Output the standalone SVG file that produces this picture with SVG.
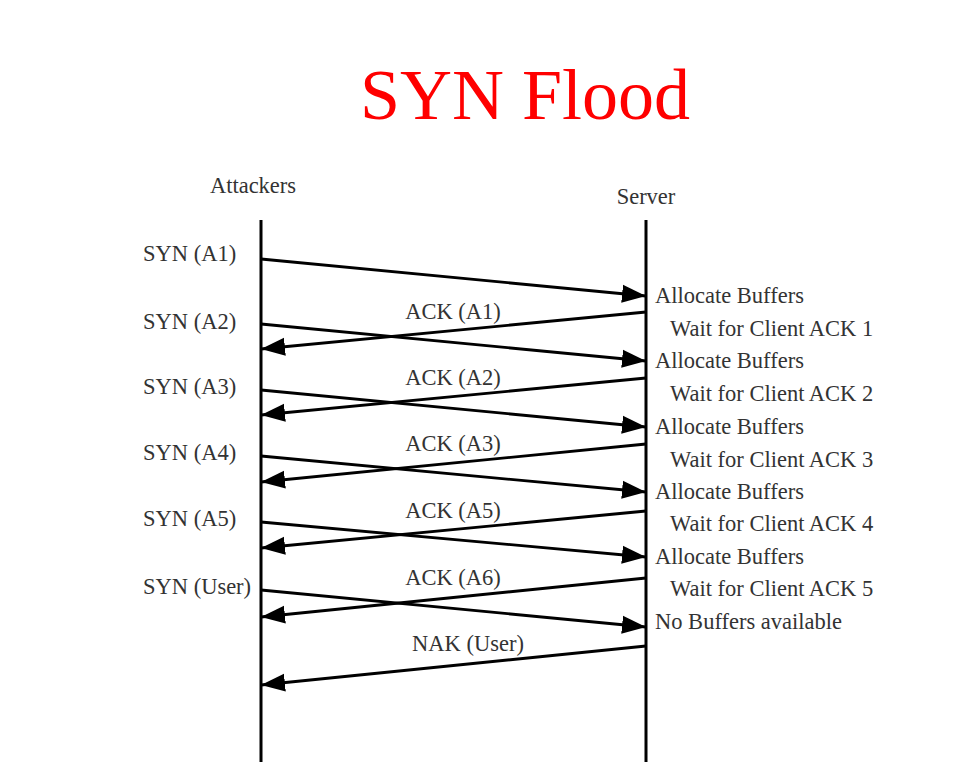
<svg xmlns="http://www.w3.org/2000/svg" width="976" height="782" viewBox="0 0 976 782">
<style>
.t{font-family:"Liberation Serif","Times New Roman",serif;font-size:22.5px;fill:#333}
.title{font-family:"Liberation Serif","Times New Roman",serif;font-size:72px;fill:#ff0000}
.life{stroke:#000;stroke-width:3;fill:none}
.msg{stroke:#000;stroke-width:2.8;fill:none;marker-end:url(#ah)}
</style>
<defs>
<marker id="ah" markerUnits="userSpaceOnUse" markerWidth="26" markerHeight="20" refX="24" refY="10" orient="auto">
<path d="M0,1 L24,10 L0,19 Z" fill="#000"/>
</marker>
</defs>
<rect width="976" height="782" fill="#fff"/>
<text class="title" x="525" y="119" text-anchor="middle">SYN Flood</text>
<g id="attackers">
<text class="t" x="253" y="193" text-anchor="middle">Attackers</text>
<line class="life" x1="261" y1="220" x2="261" y2="762"/>
</g>
<g id="server">
<text class="t" x="646" y="204" text-anchor="middle">Server</text>
<line class="life" x1="646" y1="220" x2="646" y2="762"/>
</g>
<g id="labels-left">
<text class="t" x="143" y="261">SYN (A1)</text>
<text class="t" x="143" y="329">SYN (A2)</text>
<text class="t" x="143" y="394">SYN (A3)</text>
<text class="t" x="143" y="460">SYN (A4)</text>
<text class="t" x="143" y="526">SYN (A5)</text>
<text class="t" x="143" y="594">SYN (User)</text>
</g>
<g id="labels-right">
<text class="t" x="655" y="303">Allocate Buffers</text>
<text class="t" x="670" y="336">Wait for Client ACK 1</text>
<text class="t" x="655" y="368">Allocate Buffers</text>
<text class="t" x="670" y="401">Wait for Client ACK 2</text>
<text class="t" x="655" y="434">Allocate Buffers</text>
<text class="t" x="670" y="467">Wait for Client ACK 3</text>
<text class="t" x="655" y="499">Allocate Buffers</text>
<text class="t" x="670" y="531">Wait for Client ACK 4</text>
<text class="t" x="655" y="564">Allocate Buffers</text>
<text class="t" x="670" y="596">Wait for Client ACK 5</text>
<text class="t" x="655" y="629">No Buffers available</text>
</g>
<g id="connectors">
<line class="msg" x1="261" y1="259" x2="646" y2="296"/>
<line class="msg" x1="261" y1="324" x2="646" y2="361"/>
<line class="msg" x1="261" y1="390" x2="646" y2="427"/>
<line class="msg" x1="261" y1="456" x2="646" y2="492"/>
<line class="msg" x1="261" y1="522" x2="646" y2="557"/>
<line class="msg" x1="261" y1="590" x2="646" y2="627"/>
<line class="msg" x1="646" y1="312" x2="261" y2="349"/>
<line class="msg" x1="646" y1="378" x2="261" y2="415"/>
<line class="msg" x1="646" y1="444" x2="261" y2="482"/>
<line class="msg" x1="646" y1="511" x2="261" y2="548"/>
<line class="msg" x1="646" y1="578" x2="261" y2="617"/>
<line class="msg" x1="646" y1="646" x2="261" y2="685"/>
<text class="t" x="453" y="319" text-anchor="middle">ACK (A1)</text>
<text class="t" x="453" y="385" text-anchor="middle">ACK (A2)</text>
<text class="t" x="453" y="451" text-anchor="middle">ACK (A3)</text>
<text class="t" x="453" y="518" text-anchor="middle">ACK (A5)</text>
<text class="t" x="453" y="585" text-anchor="middle">ACK (A6)</text>
<text class="t" x="468" y="651" text-anchor="middle">NAK (User)</text>
</g>
</svg>
